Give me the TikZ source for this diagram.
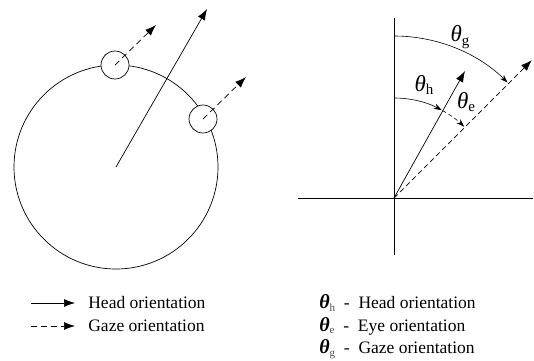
\documentclass[tikz,border=0pt]{standalone}
\usepackage{fontspec}
\setmainfont{Liberation Serif}
\usepackage{tikz}
\usetikzlibrary{arrows.meta, positioning}
\newcommand{\thsub}[1]{{\fontsize{23}{26}\selectfont\itshape θ}\raisebox{-0.45ex}{\fontsize{15}{18}\selectfont #1}}
\newcommand{\thbold}[1]{{\fontsize{20}{22}\selectfont\bfseries\itshape θ}\raisebox{-0.3ex}{\fontsize{11}{12}\selectfont\color{black!70} #1}}

\begin{document}
\begin{tikzpicture}[x=1pt, y=1pt, line width=0.7pt,
  font=\fontsize{17.5}{21}\selectfont,
  a/.style={-{Latex[length=11pt, width=8pt]}},
  g/.style={-{Latex[length=11pt, width=8pt]}, dash pattern=on 6pt off 4pt},
  ang/.style={-{Stealth[length=8pt, width=5.5pt]}, line width=0.6pt},
  eye/.style={draw, circle, minimum size=28pt, inner sep=0pt, fill=white},
  lbl/.style={inner sep=0pt, anchor=base west}]
\useasboundingbox (0,0) rectangle (534,360);
% head with eyes
\coordinate (hc) at (116,193);
\draw (hc) circle (102);
\node[eye] (e1) at (115,295) {};
\node[eye] (e2) at (203,241) {};
\coordinate (ht) at (207,351);
\coordinate (g1) at (156,335);
\coordinate (g2) at (246,283);
\draw[a] (hc) -- (ht);
\draw[g] (e1.center) -- (g1);
\draw[g] (e2.center) -- (g2);
% angles
\coordinate (o) at (394,162);
\coordinate (yt) at (394,342);
\coordinate (yb) at (394,105);
\coordinate (xl) at (298,162);
\coordinate (xr) at (533,162);
\draw (yb) -- (yt);
\draw (xl) -- (xr);
\draw[a] (o) -- ++(60.8:145.5) coordinate (hd);
\draw[g, dash pattern=on 5pt off 3.5pt] (o) -- ++(45:195) coordinate (gz);
\draw[ang] ([yshift=162]o) arc[start angle=90, end angle=45.5, radius=162];
\draw[ang] ([yshift=100]o) arc[start angle=90, end angle=61.5, radius=100];
\draw[ang, dash pattern=on 4pt off 3pt] (o) ++(61:100) arc[start angle=61, end angle=45.5, radius=100];
\node (tg) at (460,323) {\thsub{g}};
\node (th) at (424,275) {\thsub{h}};
\node (te) at (466,258) {\thsub{e}};
% legend
\coordinate (l1) at (31,57);
\coordinate (l2) at (31,34);
\draw[a] (l1) -- ++(44,0) coordinate (l1e);
\draw[g, dash pattern=on 6pt off 4pt] (l2) -- ++(44,0) coordinate (l2e);
\node[lbl, anchor=west] (hl) at (88,57) {Head orientation};
\node[lbl, anchor=west] (gl) at (88,34) {Gaze orientation};
\node[lbl, anchor=west] (lh) at (319,57) {\thbold{h}\ \ -\ \ Head orientation};
\node[lbl, anchor=west] (le) at (319,34) {\thbold{e}\ \ -\ \ Eye orientation};
\node[lbl, anchor=west] (lg) at (319,11) {\thbold{g}\ \ -\ \ Gaze orientation};
\end{tikzpicture}
\end{document}
